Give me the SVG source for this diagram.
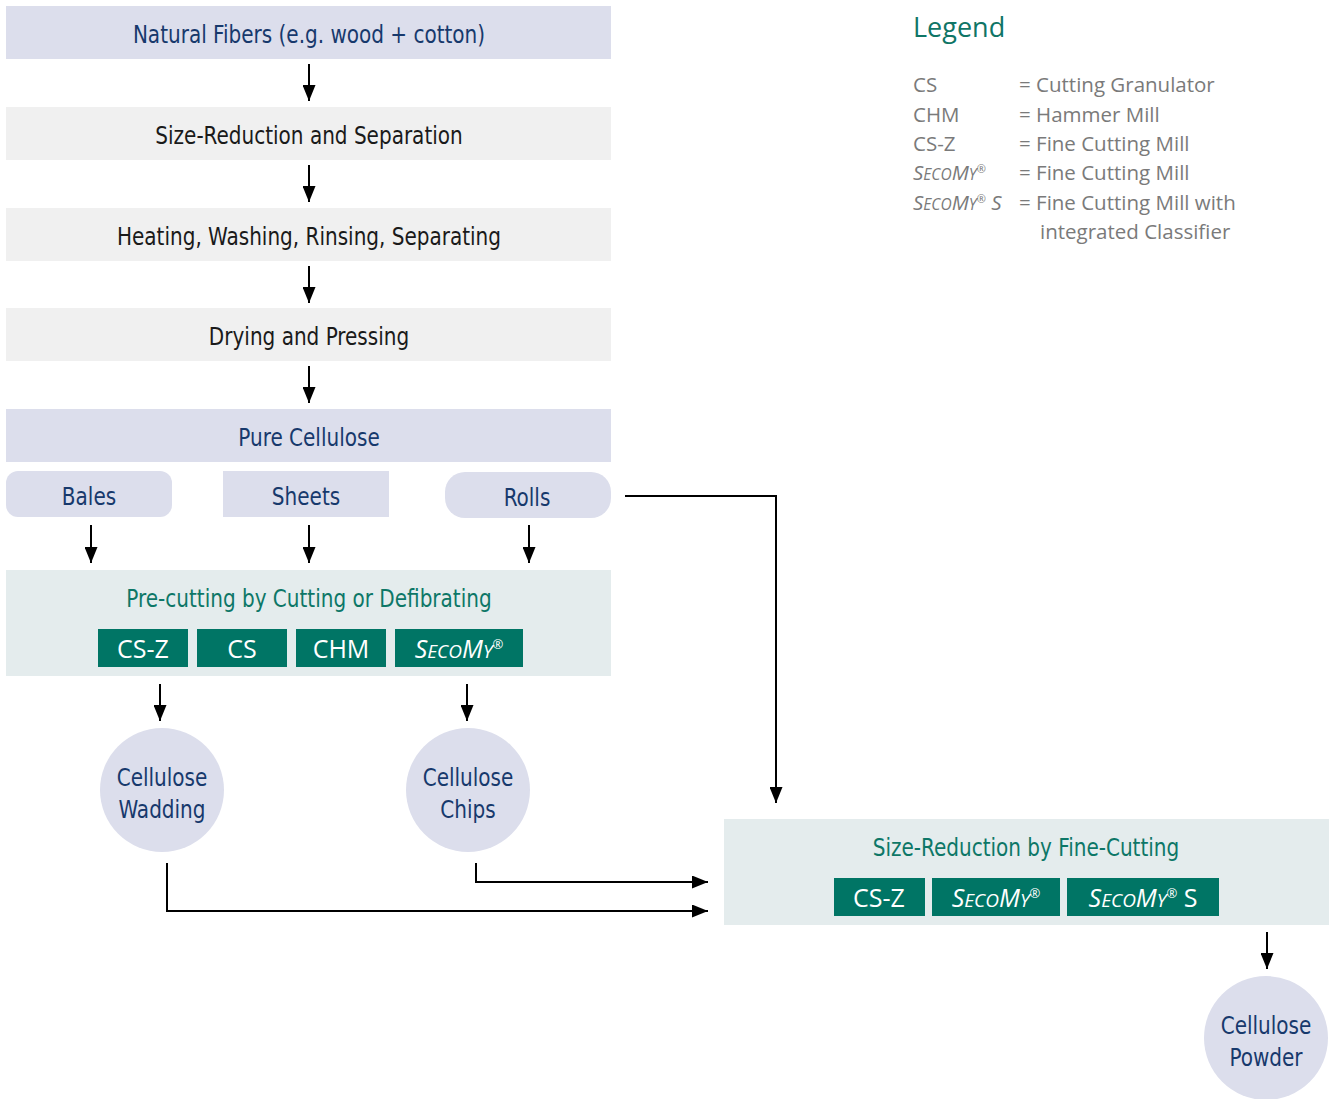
<svg xmlns="http://www.w3.org/2000/svg" width="1331" height="1099" viewBox="0 0 1331 1099">
<style>
.lav{fill:#dcdeec}
.gry{fill:#f0f0f0}
.pale{fill:#e4eced}
.btn{fill:#007565}
.nt{font-family:"DejaVu Sans Condensed","Liberation Sans Narrow","Liberation Sans",sans-serif;font-size:25px;text-anchor:middle}
.navy{fill:#17396c}
.blk{fill:#1a1a1a}
.teal{fill:#0d7767}
.bt{font-family:"Open Sans","Noto Sans",sans-serif;font-size:25px;fill:#ffffff;text-anchor:middle}
.lg{font-family:"Open Sans","Noto Sans",sans-serif;font-size:20.5px;fill:#7a7a7a}
.con{fill:none;stroke:#000;stroke-width:2}
</style>
<defs>
<marker id="ah" viewBox="0 0 16 13" refX="16" refY="6.5" markerWidth="16" markerHeight="13" markerUnits="userSpaceOnUse" orient="auto">
<path d="M0,0 L16,6.5 L0,13 Z" fill="#000"/>
</marker>
</defs>

<g id="n-natural"><rect class="lav" x="6" y="6" width="605" height="53"/><text class="nt navy" transform="translate(309 43) scale(0.89 1)">Natural Fibers (e.g. wood + cotton)</text></g>
<g id="n-sizered"><rect class="gry" x="6" y="107" width="605" height="53"/><text class="nt blk" transform="translate(309 144) scale(0.89 1)">Size-Reduction and Separation</text></g>
<g id="n-heating"><rect class="gry" x="6" y="208" width="605" height="53"/><text class="nt blk" transform="translate(309 245) scale(0.89 1)">Heating, Washing, Rinsing, Separating</text></g>
<g id="n-drying"><rect class="gry" x="6" y="308" width="605" height="53"/><text class="nt blk" transform="translate(309 345) scale(0.89 1)">Drying and Pressing</text></g>
<g id="n-pure"><rect class="lav" x="6" y="409" width="605" height="53"/><text class="nt navy" transform="translate(309 446) scale(0.89 1)">Pure Cellulose</text></g>
<g id="n-bales"><rect class="lav" x="6" y="471" width="166" height="46" rx="12"/><text class="nt navy" transform="translate(89 505) scale(0.89 1)">Bales</text></g>
<g id="n-sheets"><rect class="lav" x="223" y="471" width="166" height="46"/><text class="nt navy" transform="translate(306 505) scale(0.89 1)">Sheets</text></g>
<g id="n-rolls"><rect class="lav" x="445" y="472" width="166" height="46" rx="20"/><text class="nt navy" transform="translate(527 506) scale(0.89 1)">Rolls</text></g>

<g id="n-precut">
<rect class="pale" x="6" y="570" width="605" height="106"/>
<text class="nt teal" transform="translate(309 607) scale(0.89 1)">Pre-cutting by Cutting or Defibrating</text>
<rect class="btn" x="98" y="629" width="90" height="38"/><text class="bt" x="143" y="658">CS-Z</text>
<rect class="btn" x="197" y="629" width="90" height="38"/><text class="bt" x="242" y="658">CS</text>
<rect class="btn" x="296" y="629" width="90" height="38"/><text class="bt" x="341" y="658">CHM</text>
<rect class="btn" x="395" y="629" width="128" height="38"/><text class="bt" x="459" y="658" font-style="italic">S<tspan font-size="19">ECO</tspan>M<tspan font-size="19">Y</tspan><tspan font-size="13" dy="-9">®</tspan></text>
</g>

<g id="n-wadding"><circle class="lav" cx="162" cy="790" r="62"/><text class="nt navy" transform="translate(162 786) scale(0.89 1)">Cellulose</text><text class="nt navy" transform="translate(162 818) scale(0.89 1)">Wadding</text></g>
<g id="n-chips"><circle class="lav" cx="468" cy="790" r="62"/><text class="nt navy" transform="translate(468 786) scale(0.89 1)">Cellulose</text><text class="nt navy" transform="translate(468 818) scale(0.89 1)">Chips</text></g>

<g id="n-fine">
<rect class="pale" x="724" y="819" width="605" height="106"/>
<text class="nt teal" transform="translate(1026 856) scale(0.89 1)">Size-Reduction by Fine-Cutting</text>
<rect class="btn" x="834" y="878" width="91" height="38"/><text class="bt" x="879" y="907">CS-Z</text>
<rect class="btn" x="932" y="878" width="128" height="38"/><text class="bt" x="996" y="907" font-style="italic">S<tspan font-size="19">ECO</tspan>M<tspan font-size="19">Y</tspan><tspan font-size="13" dy="-9">®</tspan></text>
<rect class="btn" x="1067" y="878" width="152" height="38"/><text class="bt" x="1143" y="907"><tspan font-style="italic">S<tspan font-size="19">ECO</tspan>M<tspan font-size="19">Y</tspan><tspan font-size="13" dy="-9">®</tspan></tspan><tspan dy="9"> S</tspan></text>
</g>

<g id="n-powder"><circle class="lav" cx="1266" cy="1038" r="62"/><text class="nt navy" transform="translate(1266 1034) scale(0.89 1)">Cellulose</text><text class="nt navy" transform="translate(1266 1066) scale(0.89 1)">Powder</text></g>

<g id="legend">
<text x="913" y="37" font-family="Open Sans,Noto Sans,sans-serif" font-size="27" fill="#0f7566">Legend</text>
<text class="lg" x="913" y="92">CS</text><text class="lg" x="1019" y="92">= Cutting Granulator</text>
<text class="lg" x="913" y="122">CHM</text><text class="lg" x="1019" y="122">= Hammer Mill</text>
<text class="lg" x="913" y="151">CS-Z</text><text class="lg" x="1019" y="151">= Fine Cutting Mill</text>
<text class="lg" x="913" y="180" font-style="italic">S<tspan font-size="15.5">ECO</tspan>M<tspan font-size="15.5">Y</tspan><tspan font-size="11" dy="-7">®</tspan></text><text class="lg" x="1019" y="180">= Fine Cutting Mill</text>
<text class="lg" x="913" y="210" font-style="italic">S<tspan font-size="15.5">ECO</tspan>M<tspan font-size="15.5">Y</tspan><tspan font-size="11" dy="-7">®</tspan><tspan dy="7"> S</tspan></text><text class="lg" x="1019" y="210">= Fine Cutting Mill with</text>
<text class="lg" x="1040" y="239">integrated Classifier</text>
</g>

<g id="connectors">
<line class="con" x1="309" y1="64" x2="309" y2="101" marker-end="url(#ah)"/>
<line class="con" x1="309" y1="165" x2="309" y2="202" marker-end="url(#ah)"/>
<line class="con" x1="309" y1="266" x2="309" y2="303" marker-end="url(#ah)"/>
<line class="con" x1="309" y1="366" x2="309" y2="403" marker-end="url(#ah)"/>
<line class="con" x1="91" y1="525" x2="91" y2="563" marker-end="url(#ah)"/>
<line class="con" x1="309" y1="525" x2="309" y2="563" marker-end="url(#ah)"/>
<line class="con" x1="529" y1="525" x2="529" y2="563" marker-end="url(#ah)"/>
<line class="con" x1="160" y1="684" x2="160" y2="721" marker-end="url(#ah)"/>
<line class="con" x1="467" y1="684" x2="467" y2="721" marker-end="url(#ah)"/>
<polyline class="con" points="625,496 776,496 776,803" marker-end="url(#ah)"/>
<polyline class="con" points="476,863 476,882 708,882" marker-end="url(#ah)"/>
<polyline class="con" points="167,863 167,911 708,911" marker-end="url(#ah)"/>
<line class="con" x1="1267" y1="932" x2="1267" y2="969" marker-end="url(#ah)"/>
</g>
</svg>
